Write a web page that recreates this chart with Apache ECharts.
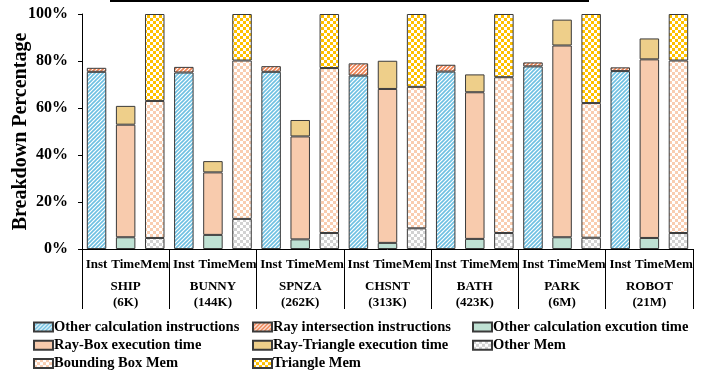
<!DOCTYPE html>
<html>
<head>
<meta charset="utf-8">
<script src="https://cdn.jsdelivr.net/npm/echarts@6/dist/echarts.min.js"></script>
<style>html,body{margin:0;padding:0;background:#fff}#c{width:716px;height:373px}</style>
</head>
<body>
<div id="c"></div>
<script>
// ---- data ----
const groups = ['SHIP\n(6K)', 'BUNNY\n(144K)', 'SPNZA\n(262K)', 'CHSNT\n(313K)', 'BATH\n(423K)', 'PARK\n(6M)', 'ROBOT\n(21M)'];
const subLabels = ['Inst', 'Time', 'Mem'];
const otherCalcInst = [75.4, 75.1, 75.4, 73.8, 75.5, 77.7, 75.7];
const rayInterInst  = [1.7, 2.4, 2.4, 5.2, 2.9, 1.7, 1.6];
const otherCalcTime = [5.0, 6.0, 4.1, 2.6, 4.3, 5.0, 4.7];
const rayBoxTime    = [47.9, 26.6, 43.8, 65.5, 62.4, 81.6, 76.0];
const rayTriTime    = [8.0, 4.8, 7.0, 12.0, 7.6, 11.0, 8.9];
const otherMem      = [4.7, 12.8, 6.8, 8.8, 6.8, 4.8, 6.8];
const bboxMem       = [58.3, 67.4, 70.2, 60.2, 66.3, 57.3, 73.4];
const triMem        = [37.0, 19.8, 23.0, 31.0, 26.9, 37.9, 19.8];
const yTicks = [0, 20, 40, 60, 80, 100];

// ---- patterns ----
function hatch(color) {
  const n = 4, c = document.createElement('canvas');
  c.width = n; c.height = n;
  const g = c.getContext('2d');
  g.fillStyle = '#fff'; g.fillRect(0, 0, n, n);
  g.strokeStyle = color; g.lineWidth = 1.6;
  g.beginPath();
  g.moveTo(0, n); g.lineTo(n, 0);
  g.moveTo(-1, 1); g.lineTo(1, -1);
  g.moveTo(n - 1, n + 1); g.lineTo(n + 1, n - 1);
  g.stroke();
  return { image: c, repeat: 'repeat' };
}
function checker(color, s) {
  const c = document.createElement('canvas');
  c.width = 2 * s; c.height = 2 * s;
  const g = c.getContext('2d');
  g.fillStyle = '#fff'; g.fillRect(0, 0, 2 * s, 2 * s);
  g.fillStyle = color;
  g.fillRect(0, 0, s, s); g.fillRect(s, s, s, s);
  return { image: c, repeat: 'repeat' };
}

const cats = [];
groups.forEach(() => subLabels.forEach(s => cats.push(s)));
function expand(arr, slot) {
  const out = [];
  arr.forEach(v => { for (let k = 0; k < 3; k++) out.push(k === slot ? v : null); });
  return out;
}

const FONT = "'Times New Roman', 'Liberation Serif', serif";
const specs = [
  ['Other calculation instructions', otherCalcInst, 0, hatch('#6EC0E2')],
  ['Ray intersection instructions', rayInterInst, 0, hatch('#EE8050')],
  ['Other calculation excution time', otherCalcTime, 1, '#BFE1D3'],
  ['Ray-Box execution time', rayBoxTime, 1, '#F8CBAD'],
  ['Ray-Triangle execution time', rayTriTime, 1, '#EECF8A'],
  ['Other Mem', otherMem, 2, checker('#D2D2D2', 3)],
  ['Bounding Box Mem', bboxMem, 2, checker('#F9CDB0', 3)],
  ['Triangle Mem', triMem, 2, checker('#FFC000', 3)]
];

const series = specs.map(([name, arr, slot, color]) => ({
  name, type: 'bar', stack: 'all', xAxisIndex: 0,
  barWidth: '67%',
  data: expand(arr, slot),
  itemStyle: { color, borderColor: '#3a3a3a', borderWidth: 1 },
  emphasis: { disabled: true }
}));

const legendText = { fontFamily: FONT, fontWeight: 'bold', fontSize: 14.5, color: '#000', lineHeight: 16, padding: [0, 0, 0, -4] };
function mkLegend(left, names) {
  return {
    left, top: 319, orient: 'vertical', itemGap: 2.3, itemWidth: 19, itemHeight: 9,
    icon: 'rect', selectedMode: false, padding: 0,
    textStyle: legendText, data: names
  };
}

const chart = echarts.init(document.getElementById('c'), null, { renderer: 'canvas' });
chart.setOption({
  animation: false,
  backgroundColor: '#fff',
  grid: { left: 82, right: 23, top: 14, bottom: 124, containLabel: false, outerBoundsMode: 'none' },
  legend: [
    mkLegend(33, ['Other calculation instructions', 'Ray-Box execution time', 'Bounding Box Mem']),
    mkLegend(252, ['Ray intersection instructions', 'Ray-Triangle execution time', 'Triangle Mem']),
    mkLegend(472, ['Other calculation excution time', 'Other Mem'])
  ],
  xAxis: [
    {
      type: 'category', data: cats, position: 'bottom',
      axisLine: { show: true, lineStyle: { color: '#000', width: 1 } },
      axisTick: { show: false },
      axisLabel: { interval: 0, margin: 9, fontFamily: FONT, fontWeight: 'bold', fontSize: 13, color: '#000' }
    },
    {
      type: 'category', data: groups, position: 'bottom',
      axisLine: { show: false },
      axisTick: { show: true, length: 60, interval: 0, lineStyle: { color: '#000', width: 1 } },
      axisLabel: { interval: 0, margin: 30, fontFamily: FONT, fontWeight: 'bold', fontSize: 13, color: '#000', lineHeight: 16 }
    }
  ],
  yAxis: {
    type: 'value', min: yTicks[0], max: yTicks[yTicks.length - 1], interval: 20,
    name: 'Breakdown Percentage', nameLocation: 'middle', nameGap: 51, nameMoveOverlap: false,
    nameTextStyle: { fontFamily: FONT, fontWeight: 'bold', fontSize: 20, color: '#000' },
    axisLine: { show: true, lineStyle: { color: '#000', width: 1 } },
    axisTick: { show: true, length: 4, lineStyle: { color: '#000' } },
    splitLine: { show: false },
    axisLabel: { formatter: '{value}%', margin: 14, fontFamily: FONT, fontWeight: 'bold', fontSize: 16, color: '#000' }
  },
  series,
  graphic: [{ type: 'line', shape: { x1: 110, y1: 1, x2: 589, y2: 1 }, style: { stroke: '#000', lineWidth: 2 } }]
});
</script>
</body>
</html>
